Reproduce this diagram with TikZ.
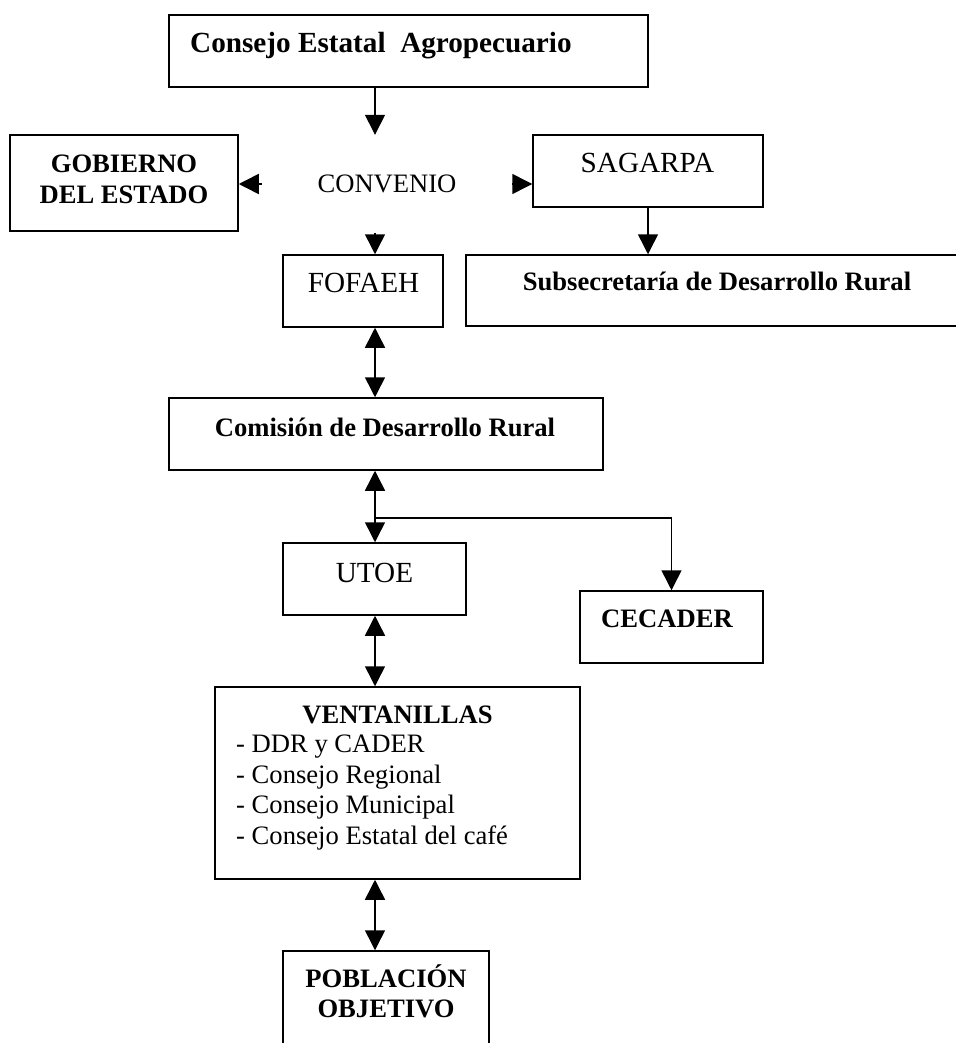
\documentclass[tikz,border=0pt]{standalone}
\usepackage{fontspec}
\setmainfont{Liberation Serif}
\usetikzlibrary{arrows.meta}
\newcommand{\txt}{\fontsize{26.6}{30.4}\selectfont}
\newcommand{\txtbig}{\fontsize{29.2}{33}\selectfont}
\begin{document}
\begin{tikzpicture}[x=1pt, y=-1pt,
        box/.style={draw, line width=1.5pt, inner sep=0pt},
        lbl/.style={inner sep=0pt, font=\txt},
        arr/.style={line width=1.5pt, -{Triangle[length=20pt, width=20pt]}},
        darr/.style={line width=1.5pt, {Triangle[length=20pt, width=20pt]}-{Triangle[length=20pt, width=20pt]}}]
        \useasboundingbox (0,0) rectangle (955,1043);
        \coordinate (col) at (375,0);
        \coordinate (split) at (375,518);
        % boxes
        \node[box, minimum width=479pt, minimum height=72pt] (cea) at (408.5,51) {};
        \node[box, minimum width=228pt, minimum height=96pt] (gob) at (124,183) {};
        \node[box, minimum width=230pt, minimum height=72pt] (sag) at (648,171) {};
        \node[box, minimum width=160pt, minimum height=72pt] (fof) at (363,291) {};
        \node[box, minimum width=504pt, minimum height=71pt] (sub) at (718,290.5) {};
        \node[box, minimum width=434pt, minimum height=72pt] (com) at (386,434) {};
        \node[box, minimum width=183pt, minimum height=72pt] (utoe) at (374.5,579) {};
        \node[box, minimum width=183pt, minimum height=72pt] (cec) at (671.5,627) {};
        \node[box, minimum width=365pt, minimum height=192pt] (ven) at (397.5,783) {};
        \node[box, minimum width=206pt, minimum height=119pt] (pob) at (386,1010.5) {};
        \node[lbl, minimum width=250pt, minimum height=98pt] (conv) at (387,184) {CONVENIO};
        % texts
        \node[lbl, anchor=base west, font=\txtbig\bfseries] (ceaT) at (190,53) {Consejo Estatal\ \ Agropecuario};
        \node[lbl, anchor=north, align=center, font=\txt\bfseries] (gobT) at (124,155) {GOBIERNO\\DEL ESTADO};
        \node[lbl, anchor=base, font=\txtbig] (sagT) at (647.5,173) {SAGARPA};
        \node[lbl, anchor=base, font=\txtbig] (fofT) at (363.5,292.5) {FOFAEH};
        \node[lbl, anchor=base, font=\txt\bfseries] (subT) at (717,290) {Subsecretaría de Desarrollo Rural};
        \node[lbl, anchor=base, font=\txt\bfseries] (comT) at (385,436) {Comisión de Desarrollo Rural};
        \node[lbl, anchor=base, font=\txtbig] (utoeT) at (374.5,582.5) {UTOE};
        \node[lbl, anchor=base, font=\txt\bfseries] (cecT) at (667,627) {CECADER};
        \node[lbl, anchor=base, font=\txt\bfseries] (venT) at (397.5,723) {VENTANILLAS};
        \node[lbl, anchor=north west, align=left] (venL) at (236,735) {- DDR y CADER\\- Consejo Regional\\- Consejo Municipal\\- Consejo Estatal del café};
        \node[lbl, anchor=north, align=center, font=\txt\bfseries] (pobT) at (386,964) {POBLACIÓN\\OBJETIVO};
        % connectors
        \draw[arr] (col |- cea.south) -- (col |- conv.north);
        \draw[arr] (conv.west) -- (conv.west -| gob.east);
        \draw[arr] (conv.east) -- (conv.east -| sag.west);
        \draw[arr] (col |- conv.south) -- (col |- fof.north);
        \draw[arr] (sag.south) -- (sag.south |- sub.north);
        \draw[darr] (col |- fof.south) -- (col |- com.north);
        \draw[darr] (col |- com.south) -- (col |- utoe.north);
        \draw[arr] (split) -| (cec.north);
        \draw[darr] (col |- utoe.south) -- (col |- ven.north);
        \draw[darr] (col |- ven.south) -- (col |- pob.north);
    \end{tikzpicture}
\end{document}
